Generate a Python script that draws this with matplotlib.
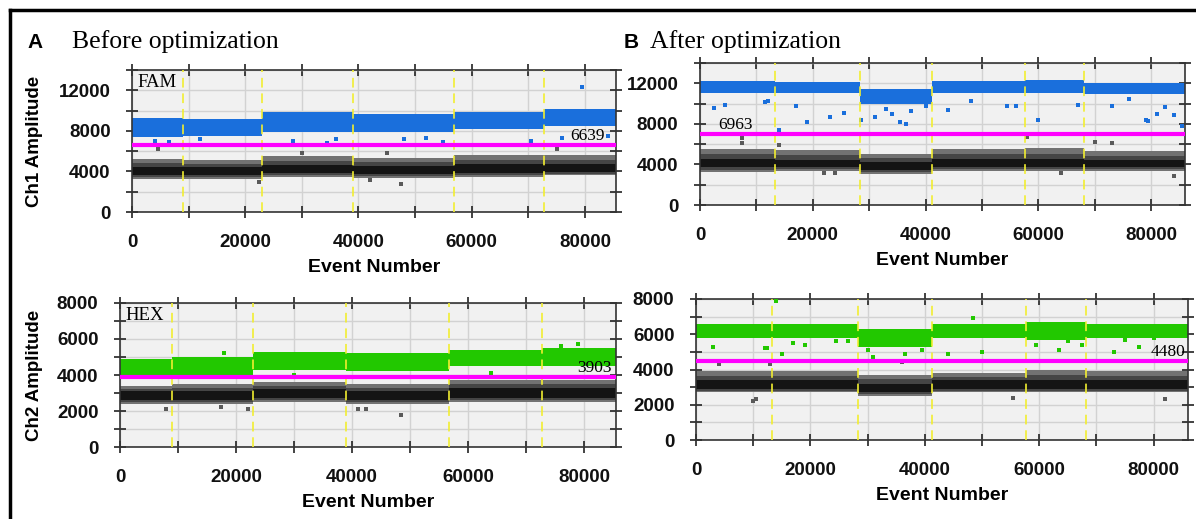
import matplotlib
matplotlib.use("Agg")
import matplotlib.pyplot as plt
from matplotlib.ticker import MultipleLocator
from matplotlib.lines import Line2D

# well boundaries (event number) for the two runs
edges_before = [0, 9000, 23000, 39000, 56800, 72700, 85500]
edges_after = [0, 13300, 28300, 41200, 57700, 68100, 86000]

# FAM before: positive (blue) and negative (grey/black) droplet bands per well
fam_b_pos_lo = [7400, 7500, 7900, 7900, 8200, 8500]
fam_b_pos_hi = [9300, 9200, 9900, 9700, 9900, 10200]
fam_b_halo_lo = [3300, 3300, 3500, 3400, 3500, 3600]
fam_b_halo_hi = [5200, 5100, 5500, 5300, 5600, 5600]
fam_b_core_lo = [3600, 3600, 3800, 3700, 3800, 3900]
fam_b_core_hi = [4400, 4400, 4600, 4500, 4700, 4700]
fam_b_thr = 6639
fam_b_pos_out_x = [79500, 4000, 6500, 12000, 28500, 34500, 36000, 48000, 52000, 55000, 70500, 76000, 84000]
fam_b_pos_out_y = [12300, 7000, 6900, 7200, 7000, 6800, 7200, 7200, 7300, 6900, 7000, 7300, 7500]
fam_b_neg_out_x = [47500, 22500, 42000, 45000, 4500, 75000, 30000]
fam_b_neg_out_y = [2800, 3000, 3200, 5800, 6200, 6200, 5800]

# FAM after
fam_a_pos_lo = [11000, 11000, 10000, 11000, 11000, 10900]
fam_a_pos_hi = [12200, 12100, 11400, 12200, 12300, 12000]
fam_a_halo_lo = [3300, 3400, 3100, 3400, 3400, 3400]
fam_a_halo_hi = [5500, 5400, 5000, 5500, 5600, 5300]
fam_a_core_lo = [3700, 3700, 3500, 3700, 3700, 3700]
fam_a_core_hi = [4500, 4400, 4200, 4500, 4500, 4400]
fam_a_thr = 6963
fam_a_pos_out_x = [2500, 4500, 11500, 12000, 14000, 17000, 19000, 23000, 25500, 28500, 31000, 33000,
                   34000, 35500, 36500, 37500, 40000, 44000, 48000, 54500, 56000, 60000, 67000, 73000,
                   76000, 79000, 79500, 81000, 82500, 84000, 85500]
fam_a_pos_out_y = [9600, 9900, 10200, 10300, 7400, 9800, 8200, 8700, 9100, 8400, 8700, 9500,
                   9000, 8200, 8000, 9300, 9800, 9400, 10300, 9800, 9800, 8400, 9900, 9800,
                   10500, 8400, 8300, 9000, 9700, 8900, 7800]
fam_a_neg_out_x = [7500, 7500, 14000, 58000, 70000, 73000, 64000, 84000, 22000, 24000]
fam_a_neg_out_y = [6600, 6100, 5900, 6700, 6200, 6100, 3200, 2900, 3200, 3200]

# HEX before
hex_b_pos_lo = [4000, 4000, 4300, 4200, 4500, 4500]
hex_b_pos_hi = [4900, 5000, 5300, 5200, 5400, 5500]
hex_b_halo_lo = [2400, 2400, 2500, 2400, 2500, 2500]
hex_b_halo_hi = [3400, 3500, 3600, 3500, 3700, 3700]
hex_b_core_lo = [2600, 2600, 2700, 2600, 2700, 2700]
hex_b_core_hi = [3100, 3100, 3200, 3100, 3300, 3300]
hex_b_thr = 3903
hex_b_pos_out_x = [79000, 76000, 84000, 18000, 30000, 64000]
hex_b_pos_out_y = [5700, 5600, 5400, 5200, 4000, 4100]
hex_b_neg_out_x = [8000, 17500, 22000, 41000, 42500, 48500]
hex_b_neg_out_y = [2100, 2200, 2100, 2100, 2100, 1800]

# HEX after
hex_a_pos_lo = [5800, 5800, 5300, 5800, 5700, 5800]
hex_a_pos_hi = [6600, 6600, 6300, 6600, 6700, 6600]
hex_a_halo_lo = [2700, 2700, 2500, 2700, 2700, 2700]
hex_a_halo_hi = [3900, 3900, 3700, 3800, 4000, 3900]
hex_a_core_lo = [2900, 2900, 2700, 2900, 2900, 2900]
hex_a_core_hi = [3400, 3400, 3200, 3400, 3400, 3400]
hex_a_thr = 4480
hex_a_pos_out_x = [14000, 3000, 12000, 12500, 15000, 17000, 19000, 24500, 26500, 30000, 31000, 36500,
                   39500, 44000, 48500, 50000, 59500, 63500, 65000, 67500, 73000, 75000, 77500, 80000]
hex_a_pos_out_y = [7900, 5300, 5200, 5200, 4900, 5500, 5400, 5600, 5600, 5100, 4700, 4900,
                   5100, 4900, 6900, 5000, 5400, 5100, 5600, 5400, 5000, 5700, 5300, 5800]
hex_a_neg_out_x = [10000, 10500, 55500, 82000, 4000, 36000, 13000]
hex_a_neg_out_y = [2200, 2300, 2400, 2300, 4300, 4400, 4300]

BLUE = "#1a6fdc"
GREEN = "#22c800"


def ext(v):
    return list(v) + [v[-1]]


def panel(ax, edges, pos_lo, pos_hi, halo_lo, halo_hi, core_lo, core_hi, thr,
          pos_x, pos_y, neg_x, neg_y, color, ymax, ymaj, ymin):
    ax.set_facecolor("#f1f1f1")
    ax.fill_between(edges, ext(halo_lo), ext(halo_hi), step="post", color="#727272", lw=0, zorder=2)
    mid_lo = [(a + b) / 2 for a, b in zip(halo_lo, core_lo)]
    mid_hi = [(a + b) / 2 for a, b in zip(halo_hi, core_hi)]
    ax.fill_between(edges, ext(mid_lo), ext(mid_hi), step="post", color="#454545", lw=0, zorder=2)
    ax.fill_between(edges, ext(core_lo), ext(core_hi), step="post", color="#141414", lw=0, zorder=2)
    ax.fill_between(edges, ext(pos_lo), ext(pos_hi), step="post", color=color, lw=0, zorder=2)
    ax.scatter(pos_x, pos_y, marker="s", s=9, color=color, lw=0, zorder=3)
    ax.scatter(neg_x, neg_y, marker="s", s=9, color="#5a5a5a", lw=0, zorder=3)
    for e in edges[1:-1]:
        ax.axvline(e, color="#f2ee30", lw=1.4, ls=(0, (5, 3)), alpha=0.85, zorder=4)
    ax.axhline(thr, color="#ff00ff", lw=3, zorder=5)
    ax.set_xlim(0, edges[-1])
    ax.set_ylim(0, ymax)
    ax.xaxis.set_major_locator(MultipleLocator(20000))
    ax.xaxis.set_minor_locator(MultipleLocator(10000))
    ax.yaxis.set_major_locator(MultipleLocator(ymaj))
    ax.yaxis.set_minor_locator(MultipleLocator(ymin))
    ax.grid(True, which="both", color="#d2d2d2", lw=1, zorder=1)
    ax.set_axisbelow(True)
    ax.tick_params(which="both", direction="inout", length=9, width=1.2, color="#222222",
                   top=True, right=True, labelsize=13.5, pad=11)
    for lab in ax.get_xticklabels() + ax.get_yticklabels():
        lab.set_fontweight("bold")
        lab.set_color("#111111")
    for s in ax.spines.values():
        s.set_color("#333333")
        s.set_linewidth(1.2)
    ax.set_xlabel("Event Number", fontsize=14, fontweight="bold", labelpad=6)


plt.rcParams["font.family"] = ["Liberation Sans", "DejaVu Sans"]
fig = plt.figure(figsize=(11.96, 5.19), dpi=100)

ax1 = fig.add_axes([0.1104, 0.5915, 0.4047, 0.2736])
ax2 = fig.add_axes([0.5853, 0.6050, 0.4055, 0.2736])
ax3 = fig.add_axes([0.1003, 0.1387, 0.4147, 0.2775])
ax4 = fig.add_axes([0.5819, 0.1522, 0.4114, 0.2717])

panel(ax1, edges_before, fam_b_pos_lo, fam_b_pos_hi, fam_b_halo_lo, fam_b_halo_hi, fam_b_core_lo,
      fam_b_core_hi, fam_b_thr, fam_b_pos_out_x, fam_b_pos_out_y, fam_b_neg_out_x, fam_b_neg_out_y,
      BLUE, 14000, 4000, 2000)
panel(ax2, edges_after, fam_a_pos_lo, fam_a_pos_hi, fam_a_halo_lo, fam_a_halo_hi, fam_a_core_lo,
      fam_a_core_hi, fam_a_thr, fam_a_pos_out_x, fam_a_pos_out_y, fam_a_neg_out_x, fam_a_neg_out_y,
      BLUE, 14000, 4000, 2000)
panel(ax3, edges_before, hex_b_pos_lo, hex_b_pos_hi, hex_b_halo_lo, hex_b_halo_hi, hex_b_core_lo,
      hex_b_core_hi, hex_b_thr, hex_b_pos_out_x, hex_b_pos_out_y, hex_b_neg_out_x, hex_b_neg_out_y,
      GREEN, 8000, 2000, 1000)
panel(ax4, edges_after, hex_a_pos_lo, hex_a_pos_hi, hex_a_halo_lo, hex_a_halo_hi, hex_a_core_lo,
      hex_a_core_hi, hex_a_thr, hex_a_pos_out_x, hex_a_pos_out_y, hex_a_neg_out_x, hex_a_neg_out_y,
      GREEN, 8000, 2000, 1000)

ax1.set_ylabel("Ch1 Amplitude", fontsize=13.5, fontweight="bold")
ax1.yaxis.set_label_coords(-0.184, 0.5)
ax3.set_ylabel("Ch2 Amplitude", fontsize=13.5, fontweight="bold")
ax3.yaxis.set_label_coords(-0.155, 0.5)

# channel names and threshold values
serif = ["Liberation Serif", "DejaVu Serif"]
ax1.text(0.012, 0.97, "FAM", transform=ax1.transAxes, family=serif, fontsize=13.5, va="top", zorder=6)
ax3.text(0.012, 0.97, "HEX", transform=ax3.transAxes, family=serif, fontsize=13.5, va="top", zorder=6)
ax1.text(83500, fam_b_thr + 100, str(fam_b_thr), family=serif, fontsize=12.5, ha="right", va="bottom", zorder=6)
ax2.text(3200, fam_a_thr + 100, str(fam_a_thr), family=serif, fontsize=12.5, ha="left", va="bottom", zorder=6)
ax3.text(84800, hex_b_thr + 60, str(hex_b_thr), family=serif, fontsize=12.5, ha="right", va="bottom", zorder=6)
ax4.text(85500, hex_a_thr + 60, str(hex_a_thr), family=serif, fontsize=12.5, ha="right", va="bottom", zorder=6)

# panel headings
fig.text(27 / 1196, 1 - 48 / 519, "A", fontsize=15, fontweight="bold", va="baseline")
fig.text(72 / 1196, 1 - 48 / 519, "Before optimization", family=serif, fontsize=18.5, va="baseline")
fig.text(624 / 1196, 1 - 48 / 519, "B", fontsize=15, fontweight="bold", va="baseline")
fig.text(650 / 1196, 1 - 48 / 519, "After optimization", family=serif, fontsize=18.5, va="baseline")

# outer frame (top and left edges visible)
fig.add_artist(Line2D([10 / 1196, 1.0], [1 - 10 / 519, 1 - 10 / 519], color="black", lw=2.5))
fig.add_artist(Line2D([10 / 1196, 10 / 1196], [0.0, 1 - 10 / 519], color="black", lw=2.5))

fig.savefig("out.png", dpi=100)
